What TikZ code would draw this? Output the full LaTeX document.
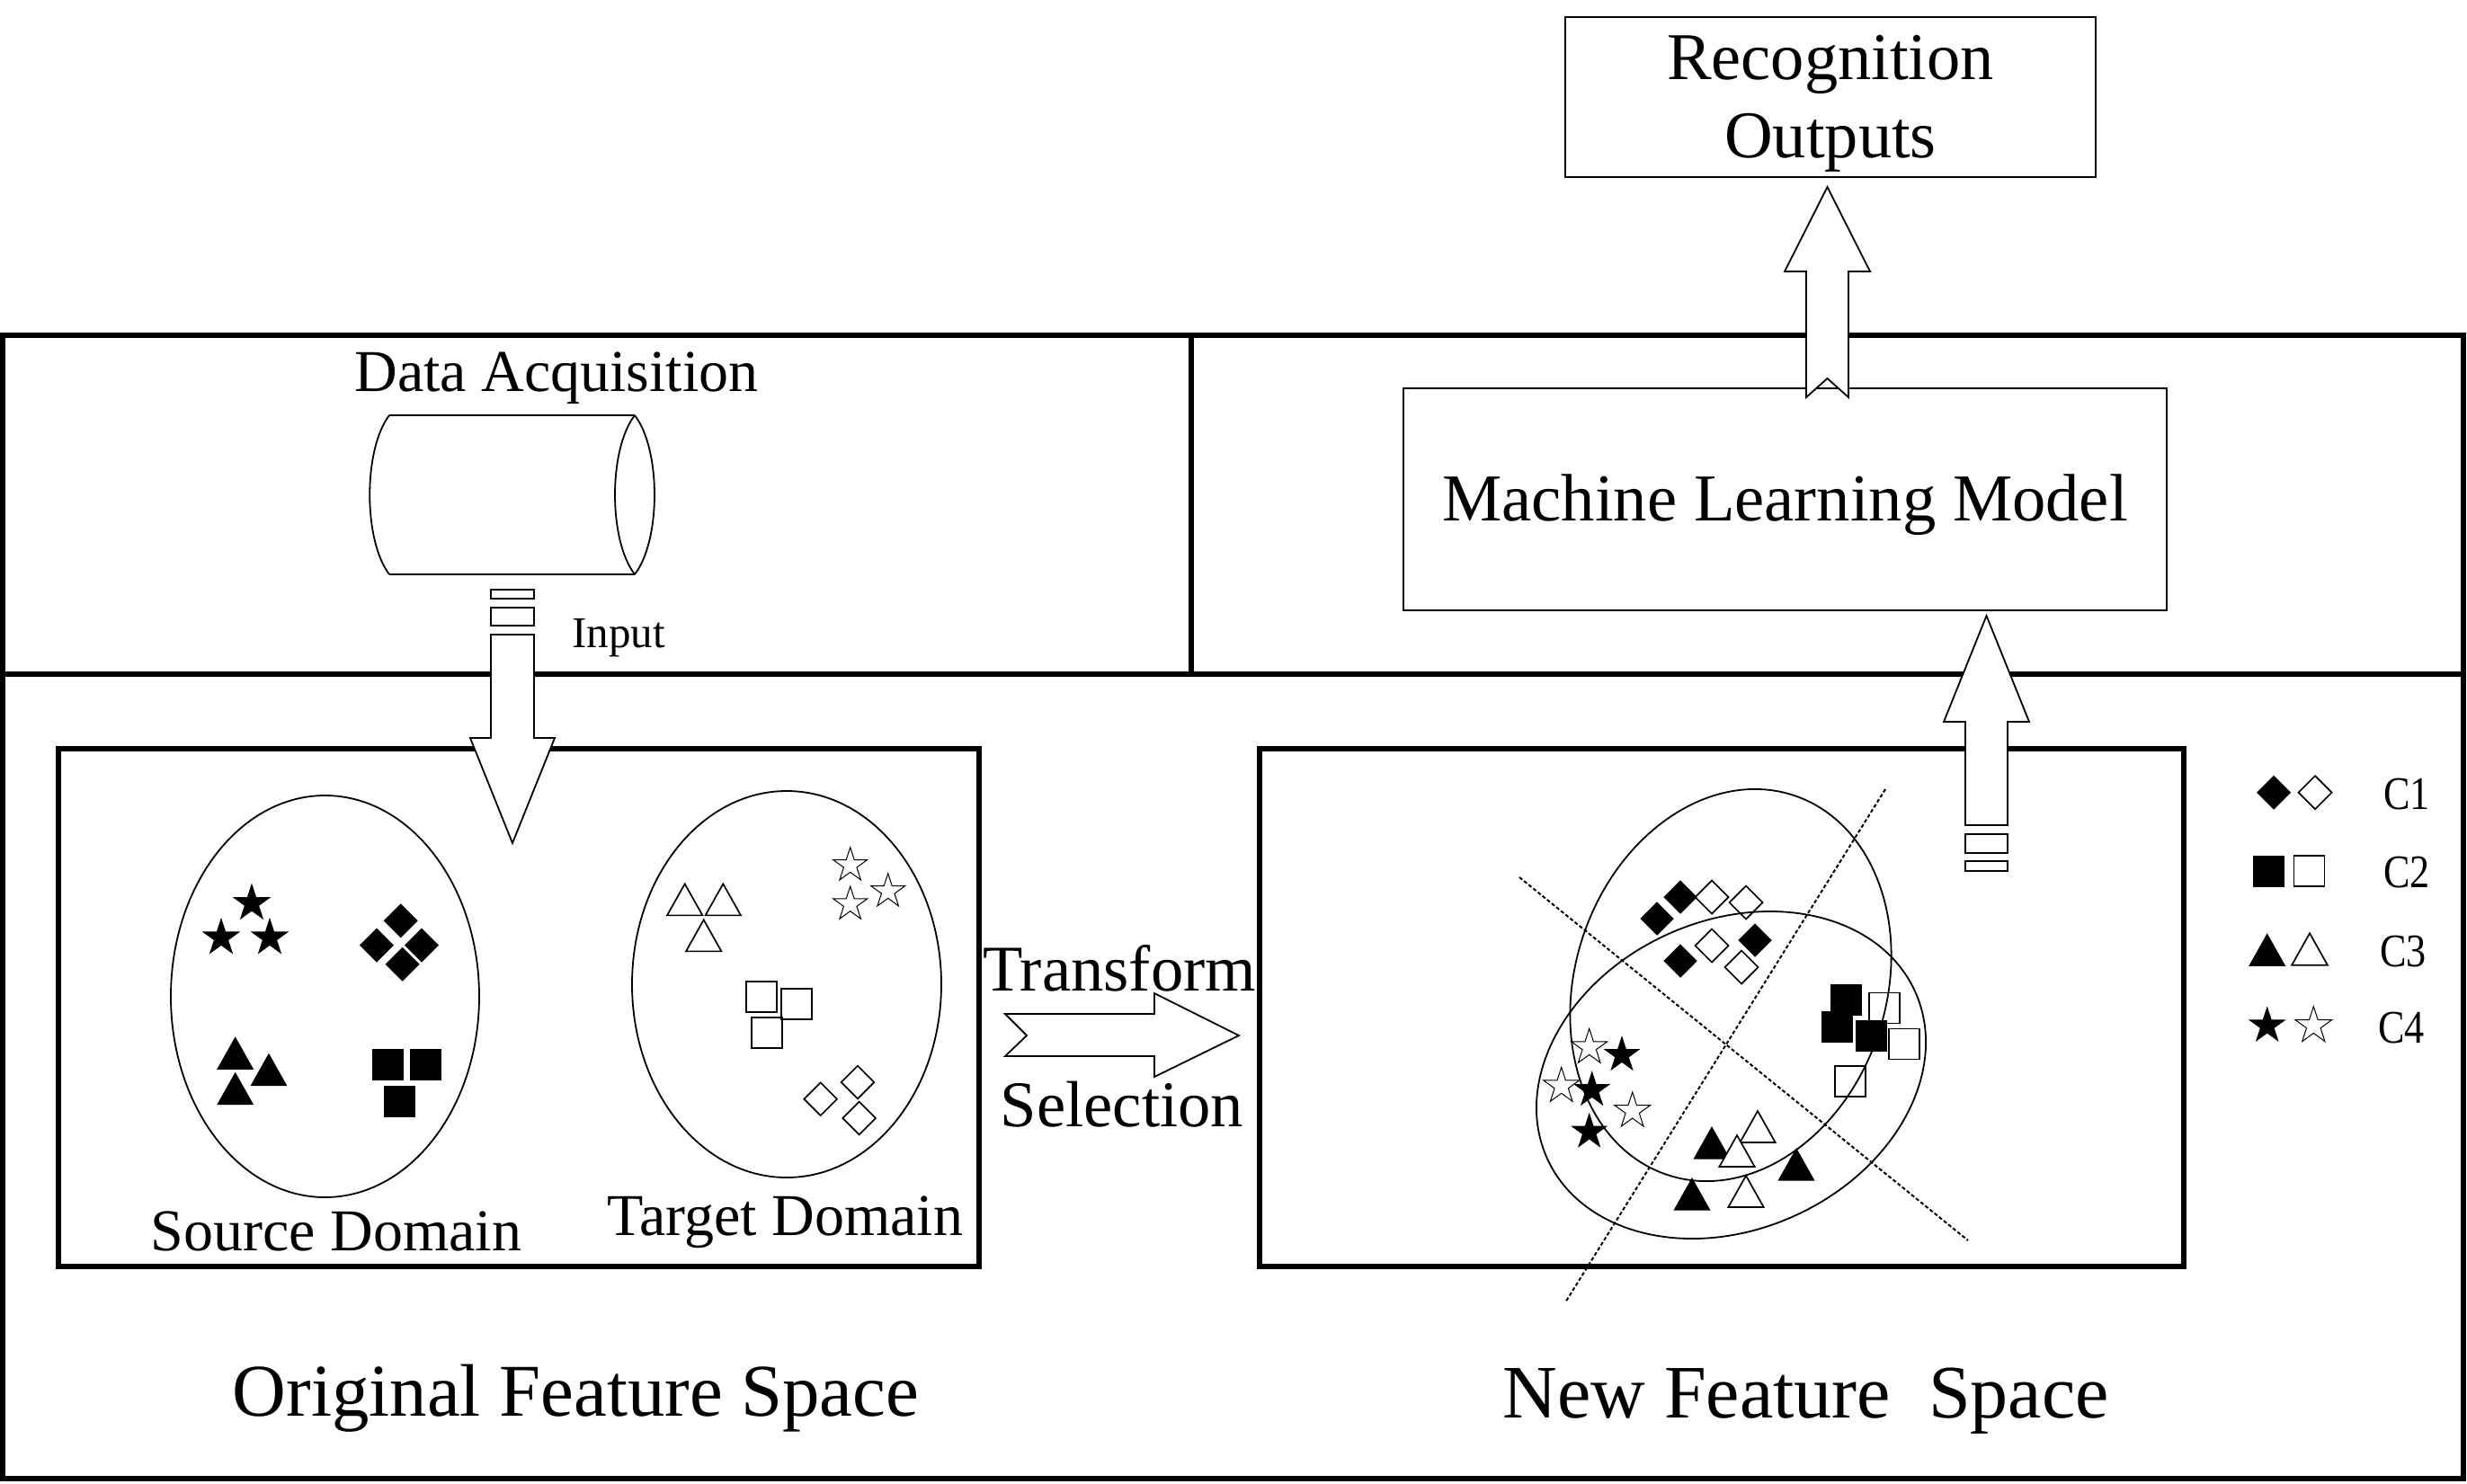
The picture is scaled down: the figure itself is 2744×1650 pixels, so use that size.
\documentclass[tikz,border=0pt]{standalone}
\usepackage{fontspec}
\setmainfont{Liberation Serif}
\newcommand{\fsz}[1]{\fontsize{#1}{#1}\selectfont}
\begin{document}
\begin{tikzpicture}[x=0.5pt,y=-0.5pt,
  frameline/.style={line width=2.6pt},
  thinline/.style={line width=0.9pt},
  blockarrow/.style={draw, fill=white, line width=0.9pt, line join=miter},
  dotline/.style={line width=1pt, dash pattern=on 2pt off 1.3pt},
  lab/.style={inner sep=0pt, anchor=base},
  filledsym/.style={fill=black},
  opensym/.style={draw, line width=0.85pt},
  openwhite/.style={draw, line width=0.85pt, fill=white},
  openstar/.style={draw, line width=0.5pt, fill=white},
  pics/dia/.style={code={\path[pic actions] (0,-#1)--(#1,0)--(0,#1)--(-#1,0)--cycle;}},
  pics/sq/.style={code={\path[pic actions] (-#1,-#1) rectangle (#1,#1);}},
  pics/tri/.style={code={\path[pic actions] (0,0)--(20.5,36.5)--(-20.5,36.5)--cycle;}},
  pics/starsym/.style={code={\path[pic actions] (-90:#1) -- (-54:{0.382*#1}) -- (-18:#1) -- (18:{0.382*#1}) -- (54:#1) -- (90:{0.382*#1}) -- (126:#1) -- (162:{0.382*#1}) -- (198:#1) -- (234:{0.382*#1}) -- cycle;}},
]
\fill[white] (0,0) rectangle (2744,1650);
\useasboundingbox (0,0) rectangle (2744,1650);

% outer frame and dividers
\draw[frameline] (3,373) rectangle (2740,1645);
\draw[frameline] (3,750) -- (2740,750);
\draw[frameline] (1325,373) -- (1325,750);

% feature space boxes
\node[draw, frameline, inner sep=0pt, minimum width=512pt, minimum height=288pt] (origbox) at (577,1121) {};
\node[draw, frameline, inner sep=0pt, minimum width=514pt, minimum height=288pt] (newbox) at (1915,1121) {};

% source / target ellipses
\draw[thinline] (361.5,1108.5) ellipse [x radius=171.5, y radius=223.5];
\draw[thinline] (875,1095) ellipse [x radius=172, y radius=215];

% source symbols
\pic[filledsym] at (280,1005) {starsym=22.4};
\pic[filledsym] at (246,1043.3) {starsym=22.4};
\pic[filledsym] at (300,1043.3) {starsym=22.4};
\pic[filledsym] at (445.7,1024.3) {dia=19};
\pic[filledsym] at (419,1051.7) {dia=19};
\pic[filledsym] at (469,1051.7) {dia=19};
\pic[filledsym] at (447.7,1072.7) {dia=19};
\pic[filledsym] at (261.7,1153.3) {tri};
\pic[filledsym] at (299,1171.7) {tri};
\pic[filledsym] at (261.7,1192.7) {tri};
\pic[filledsym] at (431.5,1184.8) {sq=17.5};
\pic[filledsym] at (473.5,1184.8) {sq=17.5};
\pic[filledsym] at (444.5,1225.5) {sq=17.5};

% target symbols
\pic[opensym, scale=0.96] at (761.7,983.3) {tri};
\pic[opensym, scale=0.96] at (804.3,983.3) {tri};
\pic[opensym, scale=0.96] at (782.7,1023.3) {tri};
\pic[openstar] at (945.7,962.7) {starsym=20};
\pic[openstar] at (945.7,1006) {starsym=20};
\pic[openstar] at (987.7,991.7) {starsym=20};
\pic[opensym] at (846.7,1108.8) {sq=17};
\pic[opensym] at (885.7,1117) {sq=17};
\pic[opensym] at (852.8,1148.8) {sq=17};
\pic[opensym] at (912.7,1222.7) {dia=18.3};
\pic[opensym] at (954,1204) {dia=18.3};
\pic[opensym] at (955.7,1244) {dia=18.3};

% transform arrow
\draw[blockarrow] (1118,1128) -- (1284,1128) -- (1284,1105) -- (1378,1152) -- (1284,1198) -- (1284,1175) -- (1118,1175) -- (1142,1152) -- cycle;

% data acquisition cylinder
\coordinate (cyl) at (570,550);
\draw[thinline] (433,462) -- (706,462) (433,639) -- (706,639);
\draw[thinline] (433,462) .. controls (404,500) and (404,601) .. (433,639);
\draw[thinline] (706,462) .. controls (735.3,500) and (735.3,601) .. (706,639);
\draw[thinline] (706,462) .. controls (676.7,500) and (676.7,601) .. (706,639);

% input arrow
\draw[thinline] (546,656) rectangle (594,666);
\draw[thinline] (546,676) rectangle (594,696);
\draw[blockarrow] (546,706) -- (594,706) -- (594,821) -- (617,821) -- (570,938) -- (523,821) -- (546,821) -- cycle;

% arrow from new feature space to model
\draw[blockarrow] (2186,918) -- (2233,918) -- (2233,803) -- (2257,803) -- (2209.5,685) -- (2162,803) -- (2186,803) -- cycle;
\draw[thinline] (2186,928) rectangle (2233,949);
\draw[thinline] (2186,958) rectangle (2233,969);

% model and outputs
\node[draw, thinline, inner sep=0pt, minimum width=424.5pt, minimum height=123.5pt] (ml) at (1985.5,555.5) {};
\node[lab, font=\fsz{37.3}] (mltext) at (1985.5,579) {Machine Learning Model};
\node[draw, thinline, inner sep=0pt, minimum width=295pt, minimum height=89pt] (ro) at (2036,108) {};
\node[lab, font=\fsz{37.2}] (rotext1) at (2036,88) {Recognition};
\node[lab, font=\fsz{37.2}] (rotext2) at (2036,175) {Outputs};
\draw[blockarrow] (2009,442) -- (2032.5,421) -- (2056,442) -- (2056,302) -- (2080,302) -- (2032.5,208) -- (1985,302) -- (2009,302) -- cycle;

% new feature space clusters
\draw[thinline, rotate around={-18.5:(1925,1096)}] (1925,1096) ellipse [x radius=173, y radius=222.5];
\draw[thinline, rotate around={24.5:(1925.5,1196)}] (1925.5,1196) ellipse [x radius=224.7, y radius=171.8];
\draw[dotline] (1690,976) -- (2189,1380);
\draw[dotline] (2097,878) -- (1741,1449);

\pic[filledsym] at (1843,1022) {dia=18.7};
\pic[filledsym] at (1869,998) {dia=18.7};
\pic[filledsym] at (1952,1046) {dia=18.7};
\pic[filledsym] at (1869,1069) {dia=18.7};
\pic[opensym] at (1904,998) {dia=18.5};
\pic[opensym] at (1942,1004) {dia=18.5};
\pic[opensym] at (1904,1052) {dia=18.5};
\pic[opensym] at (1937,1076) {dia=18.5};

\pic[opensym] at (2096,1121.5) {sq=17};
\pic[opensym] at (2118,1161.5) {sq=17};
\pic[opensym] at (2058,1203) {sq=17};
\pic[filledsym] at (2053.5,1112.5) {sq=17.5};
\pic[filledsym] at (2043.5,1142.5) {sq=17.5};
\pic[filledsym] at (2081.5,1152.5) {sq=17.5};

\pic[filledsym] at (1904,1253) {tri};
\pic[filledsym] at (1998,1277) {tri};
\pic[filledsym] at (1882,1310) {tri};
\pic[openwhite, scale=0.96] at (1955,1236) {tri};
\pic[openwhite, scale=0.96] at (1932,1263) {tri};
\pic[openwhite, scale=0.96] at (1942,1308) {tri};

\pic[openstar] at (1767.7,1165.3) {starsym=21};
\pic[openstar] at (1736.7,1208.3) {starsym=21};
\pic[openstar] at (1815.7,1236) {starsym=21};
\pic[filledsym] at (1804,1173.7) {starsym=21.5};
\pic[filledsym] at (1770.7,1212.7) {starsym=21.5};
\pic[filledsym] at (1767.7,1259.3) {starsym=21.5};

% legend
\pic[filledsym] at (2529,881.7) {dia=19};
\pic[opensym] at (2575,881.7) {dia=18.5};
\pic[filledsym] at (2523.5,969) {sq=17.5};
\pic[opensym] at (2568.5,969) {sq=17};
\pic[filledsym] at (2521.7,1038.3) {tri};
\pic[opensym, scale=0.97] at (2569,1038.3) {tri};
\pic[filledsym] at (2521.7,1141.2) {starsym=21.9};
\pic[openstar] at (2573.3,1141.2) {starsym=21.5};
\node[lab, font=\fsz{26}] (c1) at (2677,900) {\scalebox{0.85}[1]{C1}};
\node[lab, font=\fsz{26}] (c2) at (2677,987) {\scalebox{0.85}[1]{C2}};
\node[lab, font=\fsz{26}] (c3) at (2673,1075) {\scalebox{0.85}[1]{C3}};
\node[lab, font=\fsz{26}] (c4) at (2671,1160) {\scalebox{0.85}[1]{C4}};

% texts
\node[lab, font=\fsz{33}] (da) at (619,435) {Data Acquisition};
\node[lab, font=\fsz{24.5}] (inp) at (688,720) {Input};
\node[lab, font=\fsz{36.3}] (tr) at (1245,1102) {Transform};
\node[lab, font=\fsz{36.3}] (se) at (1248,1253) {Selection};
\node[lab, font=\fsz{33}] (sd) at (374,1391) {Source Domain};
\node[lab, font=\fsz{33}] (td) at (873.5,1374) {Target Domain};
\node[lab, font=\fsz{41.4}] (ofs) at (640.5,1575) {Original Feature Space};
\node[lab, font=\fsz{42}] (nfs) at (2008.5,1577) {New Feature\ \ Space};
\end{tikzpicture}
\end{document}
